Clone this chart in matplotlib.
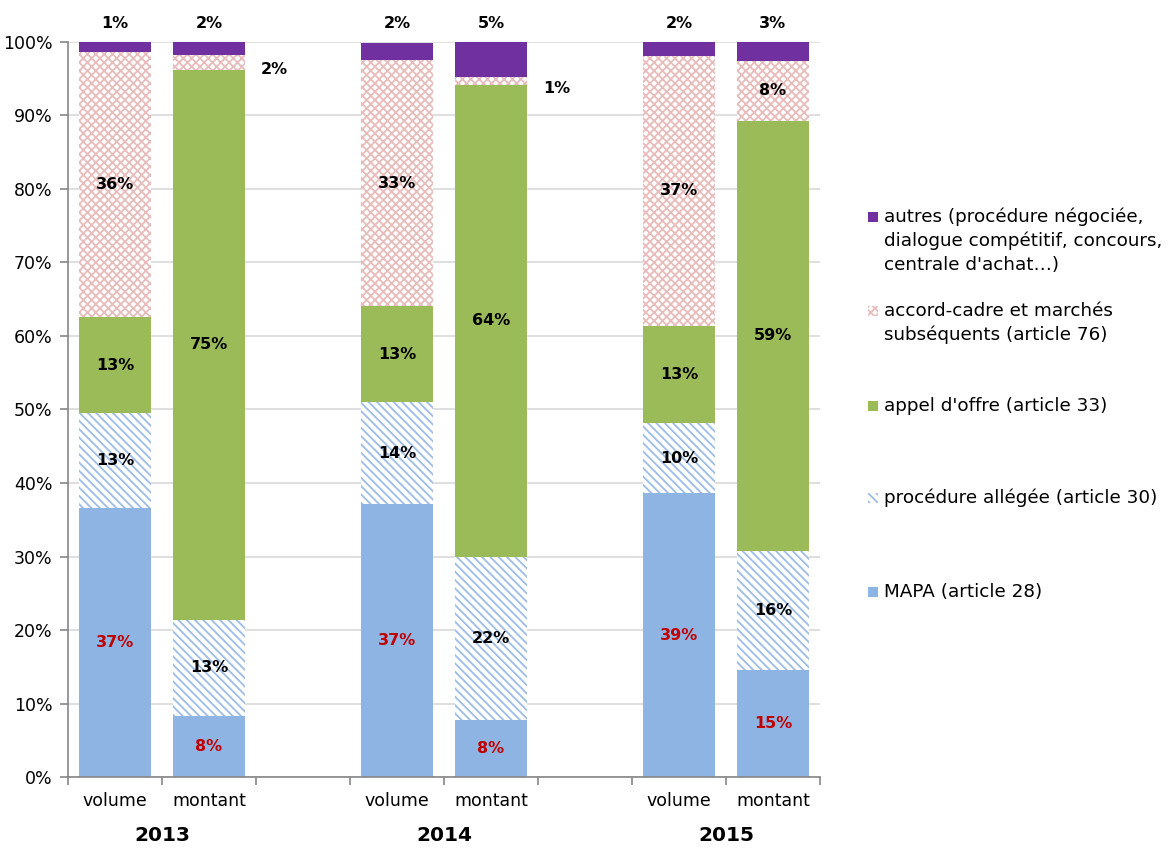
import numpy as np
import matplotlib
matplotlib.use("Agg")
import matplotlib.pyplot as plt
from matplotlib.patches import Rectangle

# parts des procédures, en % (volume / montant par année)
years = ["2013", "2014", "2015"]
bar_names = ["volume", "montant", "", "volume", "montant", "", "volume", "montant"]
mapa = [36.6, 8.3, None, 37.1, 7.8, None, 38.6, 14.6]
allegee = [12.9, 13.1, None, 13.9, 22.2, None, 9.6, 16.1]
appel = [13.1, 74.8, None, 13.1, 64.2, None, 13.2, 58.6]
accord = [36.0, 2.0, None, 33.4, 1.0, None, 36.7, 8.1]
autres = [1.4, 1.8, None, 2.4, 4.9, None, 1.9, 2.6]

series = [
    ("MAPA (article 28)", mapa, "#8eb4e3", None, "#8eb4e3"),
    ("procédure allégée (article 30)", allegee, "white", "\\\\\\\\", "#9dbde8"),
    ("appel d'offre (article 33)", appel, "#9bbb59", None, "#9bbb59"),
    ("accord-cadre et marchés\nsubséquents (article 76)", accord, "white", "xxxx", "#e8bcbb"),
    ("autres (procédure négociée,\ndialogue compétitif, concours,\ncentrale d'achat…)", autres, "#7030a0", None, "#7030a0"),
]

plt.rcParams["font.family"] = ["DejaVu Sans"]
plt.rcParams["hatch.linewidth"] = 1.3

fig = plt.figure(figsize=(11.76, 8.48), dpi=100)
ax = fig.add_axes([0.0578, 0.0837, 0.6394, 0.8668])

x = np.arange(len(bar_names))
idx = [i for i, v in enumerate(mapa) if v is not None]
bottom = np.zeros(len(bar_names))
width = 0.77

for k, (name, vals, face, hatch, edge) in enumerate(series):
    for i in idx:
        v = vals[i]
        ax.bar(x[i], v, width, bottom=bottom[i], color=face, hatch=hatch,
               edgecolor=edge, linewidth=0, zorder=2)
        mid = bottom[i] + v / 2
        lbl = f"{v:.0f}%"
        if k == 0:
            ax.text(x[i], mid, lbl, ha="center", va="center", color="#c00000",
                    fontsize=11.5, fontweight="bold", zorder=3)
        elif k == 4:
            ax.text(x[i], 102.5, lbl, ha="center", va="center", color="black",
                    fontsize=11.5, fontweight="bold", clip_on=False)
        elif v < 5:
            ax.text(x[i] + 0.7, mid - 1.0, lbl, ha="center", va="center",
                    color="black", fontsize=11.5, fontweight="bold")
        else:
            ax.text(x[i], mid, lbl, ha="center", va="center", color="black",
                    fontsize=11.5, fontweight="bold", zorder=3)
        bottom[i] += v

ax.set_xlim(-0.5, len(bar_names) - 0.5)
ax.set_ylim(0, 100)
ax.set_yticks(np.arange(0, 101, 10))
ax.set_yticklabels([f"{t}%" for t in range(0, 101, 10)], fontsize=12.5)
ax.yaxis.grid(True, color="#d9d9d9", linewidth=1.2, zorder=0)
ax.set_axisbelow(True)

ax.set_xticks(np.arange(-0.5, len(bar_names)), minor=False)
ax.set_xticklabels([])
ax.tick_params(axis="x", length=6, color="#868686", width=1.2)
ax.tick_params(axis="y", length=6, color="#868686", width=1.2, direction="out", pad=5)
for i in idx:
    ax.text(x[i], -3.2, bar_names[i], ha="center", va="center", fontsize=12.5)
for j, yr in enumerate(years):
    ax.text(3 * j + 0.5, -8.0, yr, ha="center", va="center", fontsize=14.5,
            fontweight="bold")

for s in ["top", "right"]:
    ax.spines[s].set_visible(False)
for s in ["left", "bottom"]:
    ax.spines[s].set_color("#868686")
    ax.spines[s].set_linewidth(1.2)

# légende à droite, de haut en bas (y de la première ligne, en pixels)
legend_y = [217, 311, 406, 498, 592]
for (name, vals, face, hatch, edge), yp in zip(series[::-1], legend_y):
    fy = 1 - yp / 848
    fig.patches.append(Rectangle((868 / 1176, fy - 0.0058), 0.0082, 0.0114,
                                 transform=fig.transFigure, facecolor=face,
                                 hatch=hatch, edgecolor=edge, linewidth=0))
    fig.text(884 / 1176, fy + 0.011, name, ha="left", va="top", fontsize=13.2,
             linespacing=1.4)

fig.savefig("out.png", dpi=100)
